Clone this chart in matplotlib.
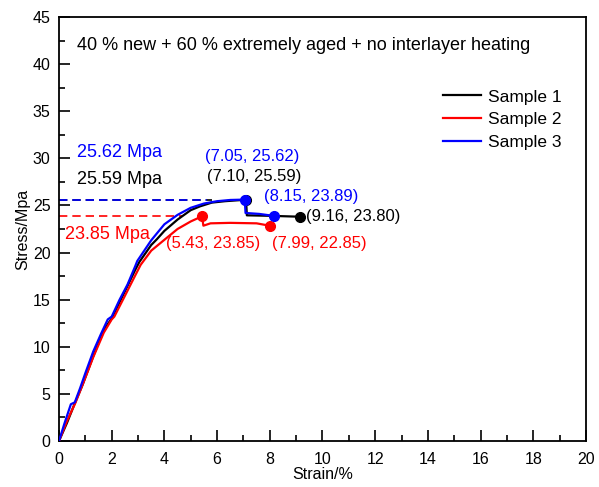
import matplotlib
matplotlib.use("Agg")
import matplotlib.pyplot as plt
from matplotlib.ticker import MultipleLocator

plt.rcParams['font.family'] = ['Liberation Sans', 'DejaVu Sans']

# Data
s1_strain = [0, 0.3, 0.6, 0.9, 1.3, 1.7, 2.0, 2.4, 2.9, 3.05, 3.5, 3.71, 4.0, 4.5, 5.0, 5.35,
             5.8, 6.3, 6.8, 7.10, 7.13, 8.0, 9.16]
s1_stress = [0, 1.9, 4.0, 6.0, 9.0, 11.8, 13.0, 15.3, 18.2, 19.0, 20.8, 21.4, 22.3, 23.5, 24.5, 24.9,
             25.3, 25.45, 25.55, 25.59, 23.95, 23.9, 23.80]

s2_strain = [0, 0.3, 0.63, 0.9, 1.3, 1.7, 2.0, 2.1, 2.5, 2.88, 3.1, 3.5, 4.02, 4.5, 5.0, 5.43,
             5.48, 5.75, 6.5, 7.5, 7.99]
s2_stress = [0, 2.1, 4.1, 6.0, 8.9, 11.5, 12.9, 13.2, 15.4, 17.5, 18.7, 20.2, 21.4, 22.5, 23.3, 23.85,
             22.85, 23.1, 23.15, 23.1, 22.85]

s3_strain = [0, 0.2, 0.45, 0.6, 0.8, 1.0, 1.3, 1.6, 1.85, 2.0, 2.3, 2.6, 2.9, 2.97, 3.5, 4.0,
             4.5, 5.0, 5.5, 6.0, 6.5, 7.05, 7.08, 7.6, 8.15]
s3_stress = [0, 1.8, 3.9, 4.1, 5.6, 7.2, 9.5, 11.4, 12.9, 13.2, 15.0, 16.6, 18.6, 19.1, 21.3, 23.0,
             24.0, 24.75, 25.2, 25.45, 25.58, 25.62, 24.2, 24.1, 23.89]

labels = ['Sample 1', 'Sample 2', 'Sample 3']
colors = ['black', 'red', 'blue']

# marked points (peak, end)
peak_x = [7.10, 5.43, 7.05]
peak_y = [25.59, 23.85, 25.62]
end_x = [9.16, 7.99, 8.15]
end_y = [23.80, 22.85, 23.89]
dash_end = [5.8, 4.7, 5.6]

fig = plt.figure(figsize=(5.99, 4.87), dpi=100)
ax = fig.add_axes([0.0985, 0.0945, 0.8797, 0.8706])

curves = [(s1_strain, s1_stress), (s2_strain, s2_stress), (s3_strain, s3_stress)]
for i in range(3):
    ax.plot(curves[i][0], curves[i][1], color=colors[i], linewidth=1.6, label=labels[i], zorder=3)

for i in range(3):
    ax.plot([0, dash_end[i]], [peak_y[i], peak_y[i]], color=colors[i], linestyle=(0, (5, 3)),
            linewidth=1.2, zorder=2)
    ax.plot([peak_x[i], end_x[i]], [peak_y[i], end_y[i]], linestyle='none', marker='o',
            markersize=7, color=colors[i], zorder=4)

fs = 11.5
big = 13
# peak labels on the left
ax.text(0.68, 30.6, '25.62 Mpa', color='blue', fontsize=big, va='center')
ax.text(0.68, 27.75, '25.59 Mpa', color='black', fontsize=big, va='center')
ax.text(0.23, 21.9, '23.85 Mpa', color='red', fontsize=big, va='center')

# point labels
ax.text(7.32, 30.2, '(7.05, 25.62)', color='blue', fontsize=12, va='center', ha='center')
ax.text(7.4, 28.1, '(7.10, 25.59)', color='black', fontsize=12, va='center', ha='center')
ax.text(7.78, 26.0, '(8.15, 23.89)', color='blue', fontsize=12, va='center')
ax.text(9.37, 23.8, '(9.16, 23.80)', color='black', fontsize=12, va='center')
ax.text(4.06, 21.0, '(5.43, 23.85)', color='red', fontsize=12, va='center')
ax.text(8.08, 21.0, '(7.99, 22.85)', color='red', fontsize=12, va='center')

ax.text(0.68, 42.0, '40 % new + 60 % extremely aged + no interlayer heating', fontsize=big, va='center')

ax.set_xlim(0, 20)
ax.set_ylim(0, 45)
ax.xaxis.set_major_locator(MultipleLocator(2))
ax.xaxis.set_minor_locator(MultipleLocator(1))
ax.yaxis.set_major_locator(MultipleLocator(5))
ax.yaxis.set_minor_locator(MultipleLocator(2.5))
ax.tick_params(which='major', direction='in', length=8, width=1.2, labelsize=fs)
ax.tick_params(axis='x', which='major', pad=8)
ax.tick_params(axis='y', which='major', pad=6)
ax.tick_params(which='minor', direction='in', length=4, width=1.2)
for sp in ax.spines.values():
    sp.set_linewidth(1.3)

ax.set_xlabel('Strain/%', fontsize=fs, labelpad=0)
ax.set_ylabel('Stress/Mpa', fontsize=fs, labelpad=2)

ax.legend(loc='upper left', bbox_to_anchor=(0.705, 0.858), frameon=False, fontsize=12.5,
          handlelength=2.2, handletextpad=0.4, labelspacing=0.45, borderpad=0.2)

plt.savefig('out.png', dpi=100)
